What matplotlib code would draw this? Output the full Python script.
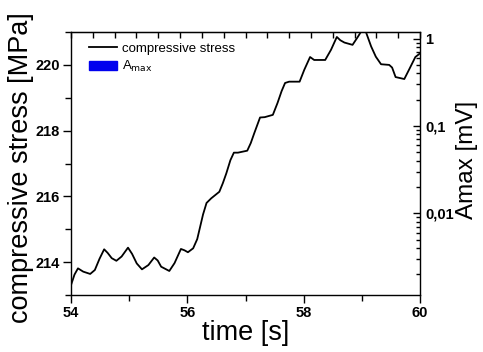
import numpy as np
import matplotlib
matplotlib.use('Agg')
from matplotlib import pyplot as plt
from matplotlib.lines import Line2D
from matplotlib.patches import Patch
from matplotlib.ticker import MultipleLocator, FixedLocator, FuncFormatter, LogLocator, NullFormatter

plt.rcParams['font.family'] = ['Liberation Sans', 'DejaVu Sans']

# data
time = [54.00, 54.06, 54.12, 54.21, 54.33, 54.41, 54.49, 54.57, 54.63, 54.70,
        54.78, 54.87, 54.98, 55.05, 55.13, 55.22, 55.33, 55.43, 55.49, 55.55,
        55.69, 55.78, 55.89, 55.95, 56.01, 56.10, 56.17, 56.21, 56.27, 56.33,
        56.41, 56.55, 56.61, 56.67, 56.74, 56.80, 56.87, 57.03, 57.09, 57.15,
        57.25, 57.33, 57.47, 57.55, 57.62, 57.68, 57.75, 57.93, 58.01, 58.11,
        58.18, 58.37, 58.47, 58.57, 58.63, 58.70, 58.84, 58.93, 59.00, 59.06,
        59.16, 59.24, 59.33, 59.47, 59.52, 59.58, 59.73, 59.81, 59.92, 60.00]
stress = [213.30, 213.62, 213.81, 213.71, 213.64, 213.76, 214.10, 214.39, 214.28, 214.12,
          214.04, 214.17, 214.44, 214.25, 213.96, 213.78, 213.91, 214.14, 214.05, 213.86,
          213.73, 213.97, 214.40, 214.36, 214.30, 214.42, 214.70, 215.00, 215.45, 215.80,
          215.94, 216.14, 216.40, 216.70, 217.10, 217.33, 217.33, 217.39, 217.62, 217.92,
          218.40, 218.41, 218.48, 218.84, 219.20, 219.45, 219.49, 219.49, 219.85, 220.24,
          220.15, 220.15, 220.46, 220.85, 220.75, 220.68, 220.61, 220.85, 221.05, 221.05,
          220.56, 220.25, 220.02, 220.00, 219.92, 219.63, 219.57, 219.85, 220.24, 220.35]
amax_ticks = [0.01, 0.1, 1]

fig = plt.figure(figsize=(4.83, 3.52), dpi=100)
ax = fig.add_axes([0.147, 0.162, 0.7226, 0.747])
ax.plot(time, stress, color='black', lw=1.3)
ax.set_xlim(54, 60)
ax.set_ylim(213, 221)
ax.xaxis.set_major_locator(MultipleLocator(2))
ax.xaxis.set_minor_locator(MultipleLocator(1))
ax.yaxis.set_major_locator(MultipleLocator(2))
ax.yaxis.set_minor_locator(MultipleLocator(1))
ax.tick_params(which='major', direction='out', length=6, width=1, labelsize=10.5, pad=2)
ax.tick_params(which='minor', direction='out', length=4, width=1)
for lab in ax.get_xticklabels() + ax.get_yticklabels():
    lab.set_fontweight('bold')
for sp in ax.spines.values():
    sp.set_linewidth(1.0)
    sp.set_color('#333333')

top = ax.secondary_xaxis('top')
top.xaxis.set_major_locator(FixedLocator(np.linspace(54, 60, 17)))
top.xaxis.set_major_formatter(NullFormatter())
top.tick_params(direction='in', length=4, width=1)

ax2 = ax.twinx()
ax2.set_yscale('log')
ax2.set_ylim(0.00116, 1.19)
ax2.yaxis.set_major_locator(FixedLocator(amax_ticks))
ax2.yaxis.set_minor_locator(LogLocator(base=10, subs=np.arange(2, 10)))
ax2.yaxis.set_minor_formatter(NullFormatter())
ax2.yaxis.set_major_formatter(FuncFormatter(lambda v, p: ('%g' % v).replace('.', ',')))
ax2.tick_params(which='major', direction='in', length=5, width=1, labelsize=10.5, pad=4)
ax2.tick_params(which='minor', direction='in', length=3, width=1)
for lab in ax2.get_yticklabels():
    lab.set_fontweight('bold')

ax.set_xlabel('time [s]', fontsize=19.5, labelpad=0)
fig.text(0.016, 0.525, 'compressive stress [MPa]', rotation=90, fontsize=19.5,
         ha='left', va='center')
fig.text(0.945, 0.545, 'Amax [mV]', rotation=90, fontsize=17.5, ha='left', va='center')

handles = [Line2D([], [], color='black', lw=1.3),
           Patch(facecolor='#0000ee', edgecolor='#0000ee')]
ax.legend(handles, ['compressive stress', r'A$_{\mathrm{max}}$'], loc='upper left',
          bbox_to_anchor=(0.025, 0.995), frameon=False, fontsize=9.5, handlelength=2.1,
          handletextpad=0.4, borderaxespad=0.3, labelspacing=0.3)

fig.savefig('out.png', dpi=100)
